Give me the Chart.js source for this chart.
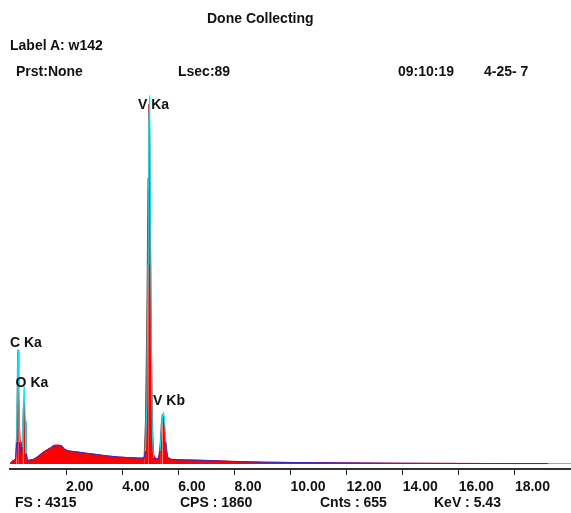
<!DOCTYPE html>
<html lang="en">
<head>
  <meta charset="UTF-8" />
  <title>Done Collecting</title>
  <script src="https://cdn.jsdelivr.net/npm/chart.js"></script>
  <style>
    body {
      margin: 0;
      background: #fff;
      width: 571px;
      height: 513px;
      overflow: hidden;
      font-family: 'Liberation Sans', Arial, sans-serif;
    }
    #wrap { position: relative; width: 571px; height: 513px; }
    canvas { position: absolute; left: 0; top: 0; }
    .txt {
      position: absolute;
      font-weight: bold;
      font-size: 14px;
      line-height: 16px;
      color: #111;
      white-space: pre;
    }
  </style>
</head>
<body>

<div id="wrap">
  <canvas id="spectrum" width="571" height="513"></canvas>
  <div class="txt" style="left:207px; top:10px;">Done Collecting</div>
  <div class="txt" style="left:10px; top:37px;">Label A: w142</div>
  <div class="txt" style="left:16px; top:63px;">Prst:None</div>
  <div class="txt" style="left:178px; top:63px;">Lsec:89</div>
  <div class="txt" style="left:398px; top:63px;">09:10:19</div>
  <div class="txt" style="left:484px; top:63px;">4-25- 7</div>
  <div class="txt" style="left:15px; top:494px;">FS : 4315</div>
  <div class="txt" style="left:180px; top:494px;">CPS : 1860</div>
  <div class="txt" style="left:320px; top:494px;">Cnts : 655</div>
  <div class="txt" style="left:434px; top:494px;">KeV : 5.43</div>
</div>

<script>
  // energy channels (keV) and counts
  const energy = [
    0.00, 0.07, 0.14, 0.20, 0.24, 0.27, 0.29, 0.31, 0.34, 0.37, 0.40, 0.43, 0.46, 0.49, 0.51, 0.54, 0.57, 0.62, 0.70, 0.85,
    1.00, 1.15, 1.30, 1.45, 1.55, 1.70, 1.85, 1.95, 2.10, 2.40, 2.70, 3.00, 3.30, 3.60, 3.90, 4.20, 4.50, 4.70,
    4.78, 4.83, 4.88, 4.92, 4.95, 4.98, 5.01, 5.04, 5.08, 5.12, 5.20,
    5.30, 5.35, 5.39, 5.43, 5.47, 5.51, 5.56, 5.62, 5.75,
    6.20, 6.60, 7.00, 7.50, 8.00, 8.50, 9.00,
    10.0, 11.0, 12.0, 13.0, 14.0, 15.0, 16.0, 17.0, 18.0, 19.0, 19.2, 20.0
  ];
  // filled spectrum (red)
  const spectrumA = [
    0, 30, 45, 60, 380, 1250, 1310, 900, 420, 220, 230, 260, 520, 720, 710, 480, 180, 40, 45, 55,
    90, 130, 160, 185, 215, 220, 210, 170, 150, 140, 125, 115, 100, 90, 80, 75, 70, 68,
    80, 500, 1800, 3300, 4150, 3800, 2500, 1400, 450, 110, 60,
    70, 220, 450, 570, 550, 400, 170, 65, 55,
    48, 45, 42, 36, 30, 26, 22,
    18, 15, 13, 11, 9, 8, 7, 6, 5, 5, null, null
  ];
  // overlay spectrum (line)
  const spectrumB = [
    0, 30, 45, 60, 250, 1050, 1320, 900, 250, 150, 120, 200, 500, 820, 890, 500, 120, 40, 45, 55,
    85, 125, 160, 190, 210, 210, 208, 165, 150, 138, 125, 112, 100, 88, 80, 72, 70, 66,
    68, 150, 700, 2300, 3800, 4250, 3000, 1300, 300, 70, 58,
    65, 150, 350, 520, 600, 530, 250, 80, 52,
    46, 44, 40, 34, 28, 24, 20,
    17, 14, 12, 10, 8, 7, 6, 5, 5, 5, 5, 5
  ];
  const xTicks = [2, 4, 6, 8, 10, 12, 14, 16, 18];

  const peakNames = ['C Ka', 'O Ka', 'V Ka', 'V Kb'];
  const peakKeV = [0.0, 0.2, 4.56, 5.1];
  const peakCounts = [1396, 935, 4143, 727];

  const pts = arr => energy.map((e, i) => ({ x: e, y: arr[i] }));

  const peakLabels = {
    id: 'peakLabels',
    afterDatasetsDraw(chart) {
      const { ctx, scales: { x, y } } = chart;
      ctx.save();
      ctx.font = 'bold 14px "Liberation Sans", Arial, sans-serif';
      ctx.fillStyle = '#111';
      ctx.textAlign = 'left';
      ctx.textBaseline = 'middle';
      peakNames.forEach((n, i) => {
        ctx.fillText(n, x.getPixelForValue(peakKeV[i]), y.getPixelForValue(peakCounts[i]));
      });
      ctx.restore();
    }
  };

  new Chart(document.getElementById('spectrum'), {
    type: 'line',
    data: {
      datasets: [
        {
          label: 'overlay',
          data: pts(spectrumB),
          borderWidth: 1,
          pointRadius: 0,
          fill: false,
          tension: 0,
          borderColor: '#2b2bd0',
          segment: {
            borderColor: c => (c.p0.parsed.x >= 19.1 || Math.max(c.p0.parsed.y, c.p1.parsed.y) > 250) ? '#00e8f0' : '#2b2bd0'
          }
        },
        {
          label: 'spectrum',
          data: pts(spectrumA),
          borderWidth: 1,
          pointRadius: 0,
          tension: 0,
          fill: 'origin',
          backgroundColor: '#ff0000',
          borderColor: '#ff0000',
          segment: {
            // dark edge on the rising side of the peaks
            borderColor: c => (c.p1.parsed.y > c.p0.parsed.y && c.p1.parsed.y > 400) ? '#606060' : '#ff0000'
          }
        }
      ]
    },
    options: {
      responsive: false,
      animation: false,
      devicePixelRatio: 1,
      layout: { padding: { left: 10, right: 0, top: 90, bottom: 0 } },
      plugins: { legend: { display: false }, tooltip: { enabled: false } },
      scales: {
        x: {
          type: 'linear',
          min: 0,
          max: 20,
          afterFit: s => { s.height = 44; },
          afterBuildTicks: s => { s.ticks = xTicks.map(v => ({ value: v })); },
          border: { display: true, color: '#333', width: 2 },
          grid: { drawOnChartArea: false, drawTicks: true, tickLength: 6, color: '#222' },
          ticks: {
            autoSkip: false,
            maxRotation: 0,
            align: 'start',
            padding: 4,
            color: '#111',
            font: { family: '"Liberation Sans", Arial, sans-serif', size: 14, weight: 'bold' },
            callback: v => v.toFixed(2)
          }
        },
        y: {
          display: false,
          min: -58,
          max: 4315
        }
      }
    },
    plugins: [peakLabels]
  });
</script>

</body>
</html>
